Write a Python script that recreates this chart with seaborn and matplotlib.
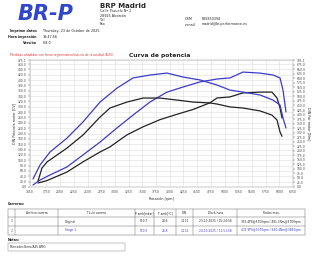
import numpy as np
import pandas as pd
import matplotlib
matplotlib.use('Agg')
import matplotlib.pyplot as plt
import seaborn as sns

# ── Data ──────────────────────────────────────────────────────────────────────

# Stage 1 (blue)
S1_RPM    = [1505, 1632, 1815, 2125, 2417, 2728, 3038, 3330, 3640, 3950,
             4242, 4553, 4863, 5100, 5337, 5648, 5885, 6013, 6067, 6122]
S1_POWER  = [7.5, 26, 45, 75, 120, 168, 221, 269, 318, 355,
             374, 393, 404, 408, 430, 426, 419, 408, 363, 281]
S1_TORQUE = [44, 121, 193, 270, 359, 469, 546, 602, 618, 629,
             607, 591, 563, 535, 524, 508, 480, 453, 381, 326]

# Original (black)
OR_RPM    = [1596, 1669, 1760, 2125, 2417, 2728, 2910, 3220, 3512, 3823,
             4133, 4425, 4735, 4863, 5100, 5337, 5648, 5866, 5958, 6013, 6049]
OR_POWER  = [15, 19, 24, 56, 94, 131, 150, 195, 225, 252,
             272, 290, 315, 333, 337, 352, 355, 355, 333, 296, 258]
OR_TORQUE = [33, 105, 138, 215, 287, 386, 436, 469, 491, 491,
             480, 469, 464, 458, 442, 436, 420, 397, 370, 304, 280]

X_TICKS = [1450] + list(range(1750, 6251, 250))
P_TICKS = list(range(0, 461, 20)) + [475.1]
T_TICKS = list(range(0, 676, 25)) + [701.1]

RUN_IDS    = ['1', '2']
RUN_TITLES = ['Original', 'Stage 1']
RUN_PAMB   = ['910.7', '910.0']
RUN_TAMB   = ['28.6', '28.8']
RUN_DIN    = ['1.131', '1.132']
RUN_DATE   = ['23-10-2025 / 15:24:56', '24-10-2025 / 11:51:58']
RUN_MAX    = ['355.4PS@5750rpm / 491.3Nm@3700rpm',
              '431.9PS@5370rpm / 630.4Nm@3887rpm']

BLUE  = '#3b3bc8'
BLACK = '#222222'
GRID  = '#dddddd'
FS    = 2.4

df = pd.concat([
    pd.DataFrame({'rpm': S1_RPM, 'power': S1_POWER, 'torque': S1_TORQUE, 'run': 'Stage 1'}),
    pd.DataFrame({'rpm': OR_RPM, 'power': OR_POWER, 'torque': OR_TORQUE, 'run': 'Original'}),
])
palette = {'Stage 1': BLUE, 'Original': BLACK}

# ── Figure ────────────────────────────────────────────────────────────────────

sns.set_style('white')
plt.rcParams['font.family'] = ['DejaVu Sans']
fig = plt.figure(figsize=(3.2, 2.56), dpi=100)

# layout overlay in pixel coords
lay = fig.add_axes([0, 0, 1, 1])
lay.set_xlim(0, 320)
lay.set_ylim(256, 0)
lay.axis('off')

# header
lay.text(18, 14, 'BR-P', fontsize=15, fontweight='bold', fontstyle='italic',
         color='#2f47c8', va='center', ha='left')
lay.text(100, 6, 'BRP Madrid', fontsize=5, fontweight='bold', va='center')
for i, line in enumerate(['Calle Pozuelo Nº 2', '28925 Alcorcón', 'Tel', 'Fax']):
    lay.text(100, 11.5 + i * 4.2, line, fontsize=FS, va='center')
lay.text(185, 19.5, 'GSM', fontsize=FS, va='center')
lay.text(202, 19.5, '635850394', fontsize=FS, va='center')
lay.text(185, 24.5, 'e-mail', fontsize=FS, va='center')
lay.text(202, 24.5, 'madrid@br-performance.es', fontsize=FS, va='center')
for i, (k, v) in enumerate([('Imprime datos', 'Thursday, 23 de October de 2025'),
                            ('Hora impresión', '19:47:56'),
                            ('Versión', '6.8.0')]):
    lay.text(37, 31 + i * 6, k, fontsize=FS, fontweight='bold', ha='right', va='center')
    lay.text(43, 31 + i * 6, v, fontsize=FS, va='center')

lay.text(10, 55, 'Pérdidas añadidas con freno regenerativo/inercia de la unidad (K-IN)',
         fontsize=2.2, color='#d83030', va='center')
lay.text(160, 55, 'Curva de potencia', fontsize=4.3, fontweight='bold',
         ha='center', va='center')

# ── Chart ─────────────────────────────────────────────────────────────────────

ax = fig.add_axes([30 / 320, 1 - 187 / 256, 263 / 320, 127 / 256])
ax2 = ax.twinx()

sns.lineplot(data=df, x='rpm', y='power', hue='run', palette=palette,
             sort=False, linewidth=0.9, legend=False, ax=ax)
sns.lineplot(data=df, x='rpm', y='torque', hue='run', palette=palette,
             sort=False, linewidth=0.9, legend=False, ax=ax2)

ax.set_xlim(1450, 6250)
ax.set_ylim(0, 475.1)
ax2.set_ylim(0, 701.1)
ax.set_xticks(X_TICKS)
ax.set_xticklabels([str(t) for t in X_TICKS])
ax.set_yticks(P_TICKS)
ax.set_yticklabels([f'{t:.1f}' for t in P_TICKS])
ax2.set_yticks(T_TICKS)
ax2.set_yticklabels([f'{t:.1f}' for t in T_TICKS])

ax.grid(True, color=GRID, linewidth=0.4)
for a in (ax, ax2):
    a.tick_params(labelsize=2.2, length=1.5, width=0.3, pad=1, colors='#444444')
    for s in a.spines.values():
        s.set_linewidth(0.3)
        s.set_color('#bbbbbb')
ax.set_xlabel('Rotación [rpm]', fontsize=2.4, labelpad=1.5)
ax.set_ylabel('DIN Potencia motor [CV]', fontsize=2.4, labelpad=1)
ax2.set_ylabel('DIN Par motor [Nm]', fontsize=2.4, labelpad=1, rotation=270, va='bottom')

# ── Runs table ────────────────────────────────────────────────────────────────

lay.text(8, 204, 'Carreras:', fontsize=FS, fontweight='bold', va='center')
cols = [8, 15, 58, 135, 154, 176, 193, 237, 305]
rows = [209, 217, 226, 235]
for x in cols:
    lay.plot([x, x], [rows[0], rows[-1]], color='#555555', lw=0.3)
for y in rows:
    lay.plot([cols[0], cols[-1]], [y, y], color='#555555', lw=0.3)
headers = ['', 'Archivo carrera', 'Título carrera', 'P amb[mbar]', 'T amb[°C]',
           'DIN', 'Día & hora', 'Ratios max.']
for i, h in enumerate(headers):
    lay.text((cols[i] + cols[i + 1]) / 2, (rows[0] + rows[1]) / 2, h,
             fontsize=2.1, ha='center', va='center')
for r in range(2):
    yc = (rows[r + 1] + rows[r + 2]) / 2
    c = BLACK if r == 0 else BLUE
    lay.text(11.5, yc, RUN_IDS[r], fontsize=2.1, ha='center', va='center', color=c)
    lay.text(65, yc, RUN_TITLES[r], fontsize=2.1, va='center', color=c)
    for j, vals in enumerate([RUN_PAMB, RUN_TAMB, RUN_DIN, RUN_DATE, RUN_MAX]):
        lay.text((cols[3 + j] + cols[4 + j]) / 2, yc, vals[r], fontsize=2.1,
                 ha='center', va='center', color=c)

# notes
lay.text(8, 240, 'Notas:', fontsize=FS, fontweight='bold', va='center')
lay.add_patch(plt.Rectangle((8, 243), 117, 8, fill=False, lw=0.3, ec='#777777'))
lay.text(10, 247, 'Mercedes Benz/A45 AMG', fontsize=2.1, va='center')

fig.savefig('out.png', dpi=100)
